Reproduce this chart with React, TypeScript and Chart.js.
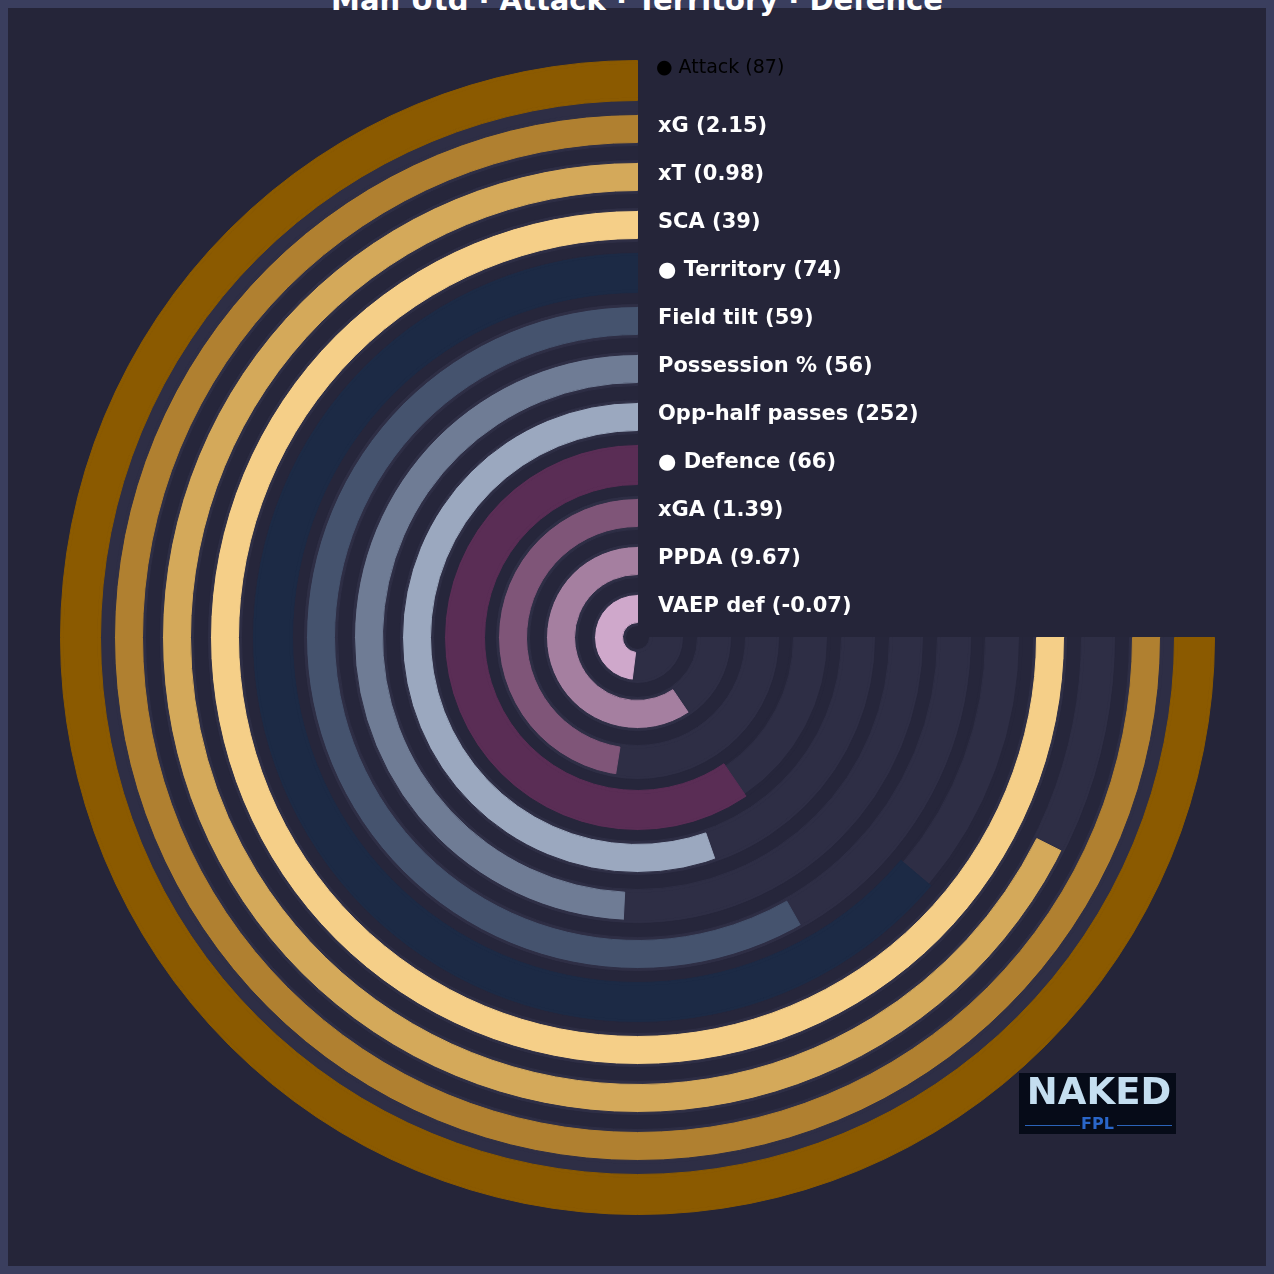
import React, { useEffect, useRef } from 'react';
import { Chart, registerables } from 'chart.js';

Chart.register(...registerables);

// ---- data (outer ring first) ----
const ringNames = ['Attack', 'xG', 'xT', 'SCA', 'Territory', 'Field tilt', 'Possession %', 'Opp-half passes', 'Defence', 'xGA', 'PPDA', 'VAEP def'];
const ringValueLabels = ['87', '2.15', '0.98', '39', '74', '59', '56', '252', '66', '1.39', '9.67', '-0.07'];
// share of the 270° sweep that is filled, in %
const ringFillPct = [100, 100, 90.1, 100, 85.1, 77.6, 65.6, 73.8, 79.4, 63.3, 79.3, 64.0];
const ringIsGroup = [true, false, false, false, true, false, false, false, true, false, false, false];
const ringColors = ['#8b5a00', '#b08030', '#d4a95a', '#f5cf88', '#1c2a45', '#45536e', '#6f7c95', '#9ba8bf', '#5a2d55', '#7f5578', '#a57fa0', '#cfa8cb'];
const titleText = 'Man Utd · Attack · Territory · Defence';

// ---- styling / geometry ----
const BG = '#252539';
const FRAME = '#3a3e5e';
const TRACK = '#2e2e45';
const GAP = '#26263b';
const R_OUT = 577;
const PITCH = 48;
const INNER_CENTER = 29;
const GROUP_HALF = 20;
const TRACK_HALF = 17;
const BAR_HALF = 14;
const CANVAS_SIZE = 1155;
const CANVAS_LEFT = 60;
const CX = CANVAS_LEFT + CANVAS_SIZE / 2;

const ringCenter = (i: number) => INNER_CENTER + PITCH * (ringNames.length - 1 - i);

function band(w: number, data: number[], colors: string[]) {
  return {
    data,
    backgroundColor: colors,
    borderColor: colors,
    borderWidth: data.map((v) => (v > 0 ? 1 : 0)),
    weight: w,
  };
}

function buildDatasets() {
  const ds: any[] = [];
  let cursor = R_OUT;
  ringNames.forEach((_, i) => {
    const c = ringCenter(i);
    const half = ringIsGroup[i] ? GROUP_HALF : TRACK_HALF;
    const top = c + half;
    // the gap just inside the outermost group ring is filled with track colour
    if (cursor - top > 0.01) ds.push(band(cursor - top, [1], [i === 1 ? TRACK : GAP]));
    const f = ringFillPct[i];
    const seg = [100 - f, f];
    if (ringIsGroup[i]) {
      ds.push(band(GROUP_HALF - TRACK_HALF, seg, [GAP, ringColors[i]]));
      ds.push(band(2 * TRACK_HALF, seg, [TRACK, ringColors[i]]));
      ds.push(band(GROUP_HALF - TRACK_HALF, seg, [GAP, ringColors[i]]));
    } else {
      ds.push(band(TRACK_HALF - BAR_HALF, [1], [TRACK]));
      ds.push(band(2 * BAR_HALF, seg, [TRACK, ringColors[i]]));
      ds.push(band(TRACK_HALF - BAR_HALF, [1], [TRACK]));
    }
    cursor = c - half;
  });
  return { ds, cutout: cursor };
}

export default function App() {
  const canvasRef = useRef<HTMLCanvasElement | null>(null);

  useEffect(() => {
    if (!canvasRef.current) return;
    const { ds, cutout } = buildDatasets();
    const chart = new Chart(canvasRef.current, {
      type: 'doughnut',
      data: { labels: ['rest', 'value'], datasets: ds },
      options: {
        responsive: false,
        animation: false,
        events: [],
        cutout,
        rotation: 90,
        circumference: 270,
        layout: { padding: 0 },
        plugins: { legend: { display: false }, tooltip: { enabled: false }, title: { display: false } },
      } as any,
    });
    return () => chart.destroy();
  }, []);

  const labelFont = '"DejaVu Sans", "Liberation Sans", sans-serif';

  return (
    <div style={{ position: 'fixed', left: 0, top: 0, width: 1274, height: 1274, overflow: 'hidden' }}>
      <div style={{ position: 'absolute', left: 0, top: 0, width: 1274, height: 1274, boxSizing: 'border-box', border: `8px solid ${FRAME}`, background: BG }} />
      <canvas
        ref={canvasRef}
        width={CANVAS_SIZE}
        height={CANVAS_SIZE}
        style={{ position: 'absolute', left: CANVAS_LEFT, top: CANVAS_LEFT, width: CANVAS_SIZE, height: CANVAS_SIZE }}
      />
      {ringNames.map((name, i) => {
        const isFirst = i === 0;
        const y = CX - ringCenter(i) - (isFirst ? 15 : 3.5);
        const text = (ringIsGroup[i] ? '● ' : '') + `${name} (${ringValueLabels[i]})`;
        return (
          <div
            key={name}
            style={{
              position: 'absolute',
              left: isFirst ? 656 : 658,
              top: y,
              transform: 'translateY(-50%)',
              fontFamily: labelFont,
              fontSize: isFirst ? 19 : 21,
              fontWeight: isFirst ? 400 : 700,
              color: isFirst ? '#000000' : '#ffffff',
              whiteSpace: 'nowrap',
              lineHeight: '24px',
            }}
          >
            {text}
          </div>
        );
      })}
      <div
        style={{
          position: 'absolute',
          left: 0,
          width: 1274,
          top: -14.5,
          textAlign: 'center',
          fontFamily: labelFont,
          fontWeight: 700,
          fontSize: 29,
          lineHeight: '29px',
          color: '#ffffff',
          whiteSpace: 'nowrap',
        }}
      >
        {titleText}
      </div>
      <div style={{ position: 'absolute', left: 1019, top: 1073, width: 157, height: 61, background: '#060b18' }}>
        <div style={{ position: 'absolute', left: 6, top: 0, width: 148, textAlign: 'center', fontFamily: labelFont, fontWeight: 700, fontSize: 37, lineHeight: '38px', color: '#c4def0', letterSpacing: 0 }}>
          NAKED
        </div>
        <div style={{ position: 'absolute', left: 6, top: 52, width: 55, height: 1, background: '#2b63b8' }} />
        <div style={{ position: 'absolute', left: 98, top: 52, width: 55, height: 1, background: '#2b63b8' }} />
        <div style={{ position: 'absolute', left: 0, width: 157, top: 42, textAlign: 'center', fontFamily: labelFont, fontWeight: 700, fontSize: 16, lineHeight: '18px', color: '#2a66c8' }}>
          FPL
        </div>
      </div>
    </div>
  );
}
